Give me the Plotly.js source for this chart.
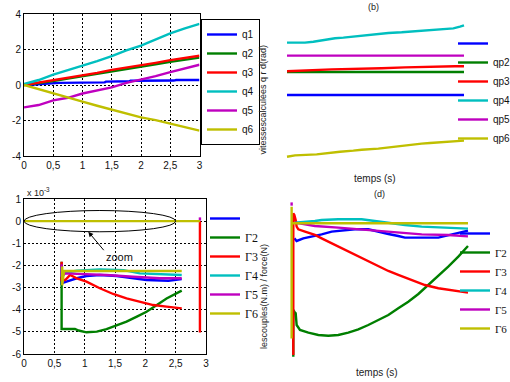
<!DOCTYPE html>
<html><head><meta charset="utf-8">
<script src="https://cdn.plot.ly/plotly-3.0.1.min.js"></script>
<style>body{margin:0;background:#fff;overflow:hidden}#g{width:510px;height:382px}</style>
</head><body><div id="g"></div>
<script>
// ---------- (a) joint positions q ----------
const tA = [0,0.25,0.5,0.75,1,1.25,1.5,1.75,2,2.25,2.5,2.75,3];
const q1x = [0.05,0.58,0.6,1.38,1.4,1.8,1.82,2.56,2.6,3.0];
const q1 = [0.0,0.08,0.12,0.15,0.19,0.21,0.24,0.25,0.28,0.28];
const q2 = [0,0.1,0.22,0.36,0.5,0.64,0.79,0.91,1.03,1.17,1.3,1.42,1.54];
const q3 = [0,0.13,0.28,0.42,0.56,0.68,0.85,0.97,1.1,1.25,1.4,1.52,1.65];
const q4 = [0.05,0.28,0.58,0.83,1.09,1.35,1.63,1.95,2.22,2.55,2.91,3.19,3.44];
const q5 = [-1.26,-1.13,-0.87,-0.72,-0.48,-0.3,-0.13,0.12,0.3,0.5,0.73,0.93,1.14];
const q6 = [0,-0.24,-0.5,-0.7,-0.94,-1.17,-1.4,-1.6,-1.82,-1.98,-2.17,-2.35,-2.57];
const namesA = ['q1','q2','q3','q4','q5','q6'];

// ---------- (b) velocities qp ----------
const qp4x = [0,0.305,0.446,0.559,0.672,0.814,0.955,1.096,1.294,1.435,1.576,1.718,1.944,2.085,2.226,2.452,2.706,2.82,2.932,3.0];
const qp4 = [1.01,1.01,1.027,1.045,1.068,1.086,1.097,1.114,1.126,1.143,1.161,1.178,1.19,1.201,1.219,1.23,1.248,1.259,1.288,1.312];
const qp3x = [0,0.333,0.757,1.605,2.0,2.847,3.0];
const qp3 = [0.512,0.529,0.546,0.564,0.581,0.599,0.599];
const qpFlatX = [0,3];
const qp1 = [0.1,0.1];
const qp2 = [0.5,0.5];
const qp5 = [0.784,0.784];
const qp6x = [0,0.136,0.503,0.644,0.785,0.898,1.124,1.266,1.548,1.774,2.028,2.169,2.282,2.424,2.763,2.876,3.0];
const qp6 = [-0.973,-0.949,-0.932,-0.914,-0.897,-0.886,-0.868,-0.851,-0.833,-0.804,-0.781,-0.764,-0.746,-0.735,-0.717,-0.7,-0.694];
const namesB = [' ','qp2','qp3','qp4','qp5','qp6'];

// ---------- (c) torques (x 10^-3) ----------
const g1x = [0.62,0.62,0.70,0.87,1.03,1.25,1.53,1.80,2.02,2.38,2.6];
const g1 = [-2.0,-2.81,-2.73,-2.58,-2.48,-2.43,-2.48,-2.58,-2.66,-2.69,-2.62];
const g2x = [0.62,0.62,0.84,0.9,1.03,1.2,1.36,1.53,1.69,1.86,2.02,2.19,2.35,2.6];
const g2 = [-1.83,-4.87,-4.87,-4.94,-5.02,-4.99,-4.88,-4.69,-4.54,-4.31,-4.09,-3.79,-3.49,-3.14];
const g3x = [0.62,0.62,0.68,0.76,0.87,1.03,1.25,1.47,1.69,1.91,2.13,2.35,2.6,null,2.9,2.9];
const g3 = [-1.83,-2.66,-2.66,-2.43,-2.58,-2.73,-3.03,-3.29,-3.49,-3.64,-3.79,-3.86,-3.94,null,0,-5.03];
const g4x = [0.62,0.62,0.68,0.87,1.25,1.64,1.91,2.24,2.6];
const g4 = [-2.05,-2.5,-2.33,-2.24,-2.18,-2.21,-2.36,-2.39,-2.43];
const g5x = [0.62,0.62,0.68,0.98,1.36,1.8,2.24,2.6,null,2.9,2.9];
const g5 = [-1.95,-2.5,-2.36,-2.39,-2.43,-2.51,-2.58,-2.58,null,0.02,0.17];
const g6x = [0,2.9,null,0.63,0.63,0.66,2.6];
const g6 = [0,0,null,-2.05,-2.9,-2.25,-2.25];
const namesC = [' ','Γ2','Γ3','Γ4','Γ5','Γ6'];

// ---------- (d) zoom of torques ----------
const d1x = [0.627,0.653,0.729,0.842,0.937,1.051,1.202,1.316,1.467,1.543,1.695,1.808,1.884,2.263,2.339,2.452,2.6];
const d1 = [-2.667,-2.731,-2.667,-2.62,-2.569,-2.504,-2.463,-2.447,-2.447,-2.488,-2.561,-2.61,-2.65,-2.65,-2.61,-2.545,-2.48];
const d2x = [0.615,0.615,0.627,0.642,0.653,0.691,0.786,0.899,1.013,1.126,1.24,1.354,1.467,1.581,1.695,1.808,1.922,2.036,2.149,2.263,2.376,2.49,2.6];
const d2 = [-5.553,-4.414,-4.455,-4.495,-4.78,-4.902,-4.968,-5.024,-5.041,-5.024,-4.968,-4.886,-4.78,-4.658,-4.536,-4.373,-4.211,-4.024,-3.805,-3.585,-3.358,-3.114,-2.854];
const d3x = [0.615,0.615,0.627,0.642,0.653,0.672,0.748,0.861,0.937,1.051,1.164,1.316,1.43,1.543,1.695,1.808,1.96,2.111,2.263,2.452,2.6];
const d3 = [-5.512,-2.057,-2.097,-2.219,-2.382,-2.447,-2.504,-2.585,-2.667,-2.789,-2.91,-3.073,-3.195,-3.317,-3.463,-3.56,-3.683,-3.805,-3.885,-3.951,-3.992];
const d4x = [0.634,0.748,0.861,0.937,1.126,1.392,1.505,1.695,1.884,2.074,2.301,2.6];
const d4 = [-2.284,-2.267,-2.243,-2.219,-2.203,-2.203,-2.236,-2.284,-2.341,-2.382,-2.406,-2.431];
const d5x = [0.596,0.596,null,0.634,0.861,1.126,1.43,1.77,2.074,2.376,2.6];
const d5 = [-1.79,-1.87,null,-2.284,-2.365,-2.406,-2.463,-2.53,-2.57,-2.585,-2.62];
const d6x = [0.596,0.596,0.596,2.6];
const d6 = [-1.895,-5.11,-2.3,-2.3];

const colors = ['#0000ff','#007f00','#ff0000','#00bfbf','#bf00bf','#bfbf00'];

const W = 510, H = 382;
const px = v => v / W, py = v => 1 - v / H;
const lw = 2.4;
const traces = [];
function add(x, y, i, name, xa, ya, lg) {
  traces.push({x: x, y: y, type: 'scatter', mode: 'lines', name: name,
    line: {color: colors[i], width: lw}, xaxis: xa, yaxis: ya,
    legend: lg, showlegend: true, connectgaps: false, hoverinfo: 'skip'});
}
// (a)
add(q1x, q1, 0, namesA[0], 'x', 'y', 'legend');
[q2, q3, q4, q5, q6].forEach((s, k) => add(tA, s, k + 1, namesA[k + 1], 'x', 'y', 'legend'));
// (b)
add(qpFlatX, qp1, 0, namesB[0], 'x2', 'y2', 'legend2');
add(qpFlatX, qp2, 1, namesB[1], 'x2', 'y2', 'legend2');
add(qp3x, qp3, 2, namesB[2], 'x2', 'y2', 'legend2');
add(qp4x, qp4, 3, namesB[3], 'x2', 'y2', 'legend2');
add(qpFlatX, qp5, 4, namesB[4], 'x2', 'y2', 'legend2');
add(qp6x, qp6, 5, namesB[5], 'x2', 'y2', 'legend2');
// (c)
[[g1x,g1],[g2x,g2],[g3x,g3],[g4x,g4],[g5x,g5],[g6x,g6]].forEach((s, k) => add(s[0], s[1], k, namesC[k], 'x3', 'y3', 'legend3'));
// (d)
[[d1x,d1],[d2x,d2],[d3x,d3],[d4x,d4],[d5x,d5],[d6x,d6]].forEach((s, k) => add(s[0], s[1], k, namesC[k], 'x4', 'y4', 'legend4'));

const xt = [0,0.5,1,1.5,2,2.5,3];
const xtt = ['0','0,5','1','1,5','2','2,5','3'];
const yaT = [-4,-2,0,2,4], yaTT = ['-4','-2','0','2','4'];
const ycT = [-6,-5,-4,-3,-2,-1,0,1], ycTT = ['-6','-5','-4','-3','-2','-1','0','1'];

const tickFont = {family: 'Liberation Sans, Arial, sans-serif', size: 10, color: '#111'};
function boxAxis(extra) {
  return Object.assign({showline: true, mirror: true, linecolor: '#000', linewidth: 1,
    showgrid: true, gridcolor: '#000', gridwidth: 1, griddash: '2px,2px', zeroline: false,
    ticks: '', tickfont: tickFont, fixedrange: true, automargin: false}, extra);
}
const hidden = extra => Object.assign({visible: false, fixedrange: true, automargin: false}, extra);

const legBase = {bgcolor: 'rgba(255,255,255,0)', borderwidth: 0, xanchor: 'left', yanchor: 'top',
  tracegroupgap: 0, font: {family: 'Liberation Sans, Arial, sans-serif', size: 11, color: '#111'}};
const serifLeg = {family: 'Liberation Serif, Times New Roman, serif', size: 11, color: '#111'};
const ann = (x, y, text, size, extra) => Object.assign({xref: 'paper', yref: 'paper', x: px(x), y: py(y),
  xanchor: 'center', yanchor: 'middle', text: text, showarrow: false,
  font: {family: 'Liberation Sans, Arial', size: size, color: '#222'}}, extra || {});

const layout = {
  width: W, height: H, margin: {l: 0, r: 0, t: 0, b: 0, pad: 0, autoexpand: false},
  paper_bgcolor: '#fff', plot_bgcolor: 'rgba(0,0,0,0)', showlegend: true,
  xaxis: boxAxis({domain: [px(24), px(199.5)], range: [0, 3], tickvals: xt, ticktext: xtt, anchor: 'y'}),
  yaxis: boxAxis({domain: [py(156), py(14)], range: [-4, 4], tickvals: yaT, ticktext: yaTT, anchor: 'x'}),
  xaxis2: hidden({domain: [px(284), px(467)], range: [-0.051, 3.051], anchor: 'y2'}),
  yaxis2: hidden({domain: [py(162), py(18)], range: [-1.065, 1.439], anchor: 'x2'}),
  xaxis3: boxAxis({domain: [px(24), px(206)], range: [0, 3], tickvals: xt, ticktext: xtt, anchor: 'y3'}),
  yaxis3: boxAxis({domain: [py(354), py(199)], range: [-6, 1], tickvals: ycT, ticktext: ycTT, anchor: 'x3'}),
  xaxis4: hidden({domain: [px(286), px(470)], range: [0.532, 2.623], anchor: 'y4'}),
  yaxis4: hidden({domain: [py(362), py(198)], range: [-5.683, -1.683], anchor: 'x4'}),
  legend: Object.assign({}, legBase, {x: px(201), y: py(19), bgcolor: '#fff', bordercolor: '#000', borderwidth: 1,
    font: {family: 'Liberation Sans, Arial, sans-serif', size: 10, color: '#111'}}),
  legend2: Object.assign({}, legBase, {x: px(453), y: py(29), font: {family: 'Liberation Sans, Arial, sans-serif', size: 10, color: '#111'}}),
  legend3: Object.assign({}, legBase, {x: px(205), y: py(204), font: {family: 'Liberation Serif, Times New Roman, serif', size: 12, color: '#111'}}),
  legend4: Object.assign({}, legBase, {x: px(455), y: py(219), font: serifLeg}),
  shapes: [
    {type: 'circle', xref: 'x3', yref: 'y3', x0: 0, x1: 2.5, y0: -0.48, y1: 0.48, line: {color: '#000', width: 1}}
  ],
  annotations: [
    ann(373, 7, '(b)', 9),
    ann(262.5, 100, 'vitessescalculées q r d(rad)', 9, {textangle: -90, font: {family: 'Liberation Sans Narrow, Liberation Sans, Arial', size: 9, color: '#222'}}),
    ann(375, 178, 'temps (s)', 10),
    ann(379, 194, '(d)', 9),
    ann(264, 297, 'lescouples(N.m) / force(N)', 9, {textangle: -90, font: {family: 'Liberation Sans Narrow, Liberation Sans, Arial', size: 9, color: '#222'}}),
    ann(377, 372, 'temps (s)', 10),
    ann(25, 192, 'x 10<sup>-3</sup>', 9, {xanchor: 'left'}),
    {xref: 'x3', yref: 'y3', x: 1.06, y: -0.48, axref: 'x3', ayref: 'y3', ax: 1.335, ay: -1.38, text: '', showarrow: true, arrowhead: 2, arrowsize: 1, arrowwidth: 1, arrowcolor: '#000'},
    {xref: 'x3', yref: 'y3', x: 1.57, y: -1.62, xanchor: 'center', yanchor: 'middle', text: 'zoom', showarrow: false, font: {family: 'Liberation Sans, Arial', size: 11, color: '#111'}}
  ]
};
Plotly.newPlot('g', traces, layout, {staticPlot: true, displayModeBar: false});
</script></body></html>
